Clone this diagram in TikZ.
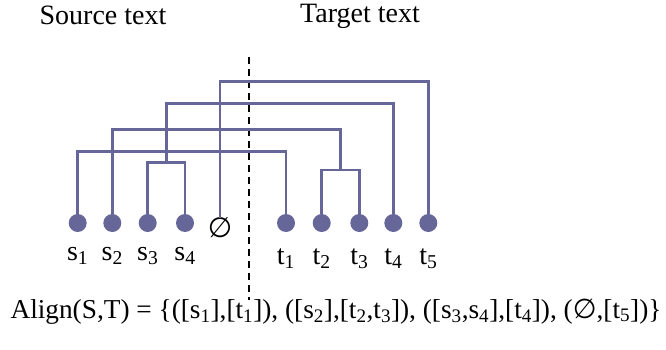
\documentclass[tikz,border=0pt]{standalone}
\usepackage{fontspec}
\setmainfont{Liberation Serif}
\newfontfamily\symfont{DejaVu Sans}
\usetikzlibrary{calc}
\definecolor{linkblue}{RGB}{102,102,153}
\newcommand{\nullset}{{\symfont ∅}}
\begin{document}
\begin{tikzpicture}
  [x=1pt,y=-1pt,
   word/.style={circle,fill=linkblue,minimum size=18pt,inner sep=0,outer sep=0},
   link/.style={draw=linkblue,line width=2.5pt},
   tag/.style={anchor=base,inner sep=0},
   divider/.style={draw=black,line width=2pt,dash pattern=on 7pt off 5pt},
   every node/.style={font=\fontsize{28}{30}\selectfont}]
  \useasboundingbox (0,0) rectangle (666,350);
  \node[tag] (src) at (103,25) {Source text};
  \node[tag] (tgt) at (360,23) {Target text};
  \node[word] (s1) at (77.7,223) {};
  \node[word] (s2) at (112.3,223) {};
  \node[word] (s3) at (147.7,223) {};
  \node[word] (s4) at (185,223) {};
  \node[inner sep=0] (e) at (220,228) {\nullset};
  \node[word] (t1) at (286,223) {};
  \node[word] (t2) at (321.7,223) {};
  \node[word] (t3) at (359.3,223) {};
  \node[word] (t4) at (393.3,223) {};
  \node[word] (t5) at (428.3,223) {};
  \node[tag] (s1l) at (77.7,260) {s\textsubscript{1}};
  \node[tag] (s2l) at (112.3,260) {s\textsubscript{2}};
  \node[tag] (s3l) at (147.7,260) {s\textsubscript{3}};
  \node[tag] (s4l) at (185,260) {s\textsubscript{4}};
  \node[tag] (t1l) at (286,264) {t\textsubscript{1}};
  \node[tag] (t2l) at (321.7,264) {t\textsubscript{2}};
  \node[tag] (t3l) at (359.3,264) {t\textsubscript{3}};
  \node[tag] (t4l) at (393.3,264) {t\textsubscript{4}};
  \node[tag] (t5l) at (428.3,264) {t\textsubscript{5}};
  \node[tag,font=\fontsize{27.3}{29}\selectfont] (align) at (336,318)
    {Align(S,T) = \{([s\textsubscript{1}],[t\textsubscript{1}]), ([s\textsubscript{2}],[t\textsubscript{2},t\textsubscript{3}]), ([s\textsubscript{3},s\textsubscript{4}],[t\textsubscript{4}]), (\nullset,[t\textsubscript{5}])\}};
  \coordinate (l1) at (0,151.7);
  \coordinate (l2) at (0,129.3);
  \coordinate (l3) at (0,103.3);
  \coordinate (l4) at (0,81.7);
  \coordinate (b1) at (0,162.7);
  \coordinate (b2) at (0,170);
  \coordinate (j1) at ($(s3)!0.5!(s4)$);
  \coordinate (j2) at ($(t2)!0.5!(t3)$);
  \coordinate (divtop) at (248.5,57);
  \coordinate (divbot) at (248.5,300);
  \draw[divider] (divtop) -- (divbot);
  \draw[link] (s1) |- (t1 |- l1) -- (t1);
  \draw[link] (s3) |- (s4 |- b1) -- (s4);
  \draw[link] (t2) |- (t3 |- b2) -- (t3);
  \draw[link] (s2) |- (j2 |- l2) -- (j2 |- b2);
  \draw[link] (j1 |- b1) |- (t4 |- l3) -- (t4);
  \draw[link] (e) |- (t5 |- l4) -- (t5);
\end{tikzpicture}
\end{document}
